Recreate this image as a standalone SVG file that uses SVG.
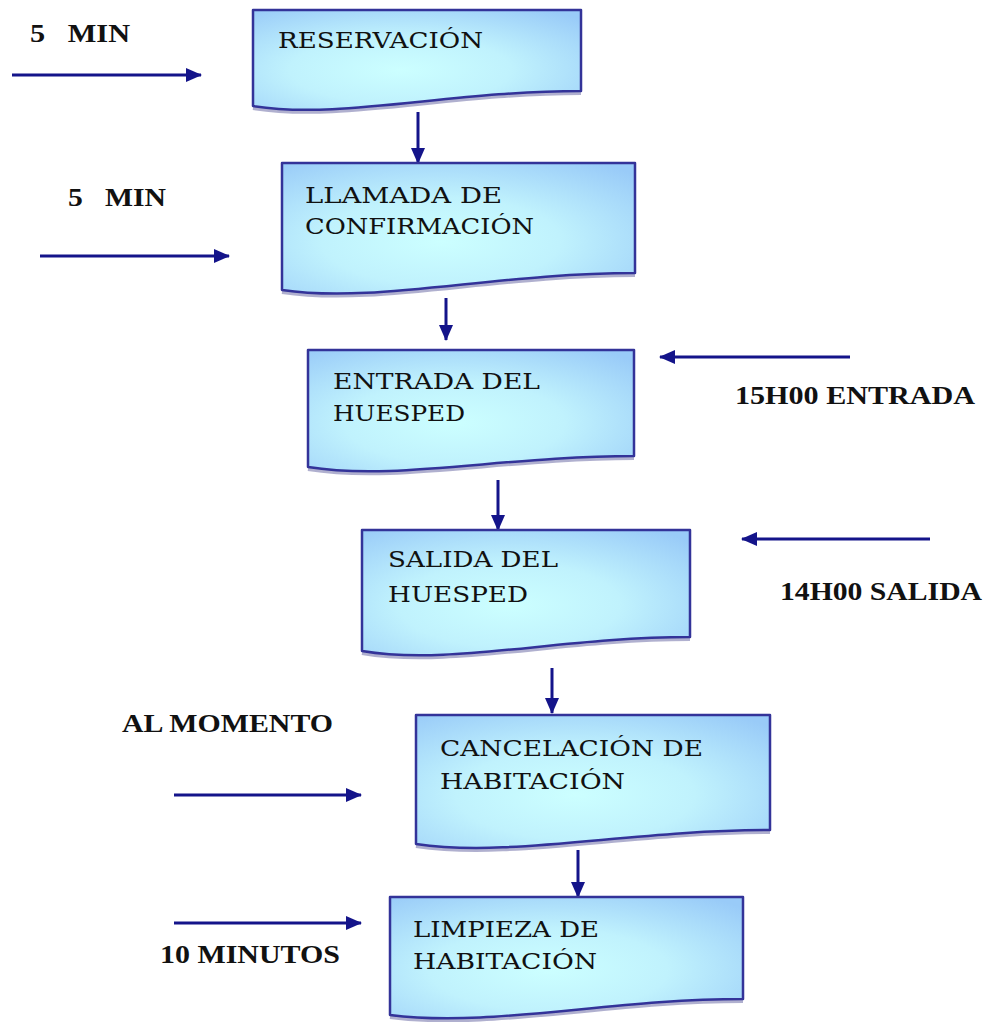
<svg xmlns="http://www.w3.org/2000/svg" width="990" height="1022" viewBox="0 0 990 1022">
<defs>
<radialGradient id="fill" cx="0.45" cy="0.6" r="0.75">
<stop offset="0" stop-color="#ccffff"/>
<stop offset="0.45" stop-color="#c0f2fd"/>
<stop offset="1" stop-color="#99cbf8"/>
</radialGradient>
<marker id="ah" markerUnits="userSpaceOnUse" markerWidth="16" markerHeight="14" refX="15" refY="7" orient="auto">
<path d="M0,0 L16,7 L0,14 Z" fill="#14148a"/>
</marker>
<style>
.box{fill:url(#fill);stroke:#333399;stroke-width:2.5;stroke-linejoin:round}
.shadow{fill:none;stroke:#7070a8;stroke-width:4;opacity:0.55}
.t{font-family:"DejaVu Serif","Liberation Serif",serif;font-size:23px;fill:#111}
.lbl{font-family:"Liberation Serif",serif;font-weight:bold;font-size:26px;fill:#111}
.ar{stroke:#14148a;stroke-width:3;fill:none;marker-end:url(#ah)}
</style>
</defs>
<g id="connectors">
<line class="ar" x1="418" y1="112" x2="418" y2="163"/>
<line class="ar" x1="446" y1="298" x2="446" y2="340"/>
<line class="ar" x1="498" y1="480" x2="498" y2="530"/>
<line class="ar" x1="552" y1="668" x2="552" y2="713"/>
<line class="ar" x1="578" y1="850" x2="578" y2="897"/>
<line class="ar" x1="12" y1="75" x2="201" y2="75"/>
<line class="ar" x1="40" y1="256" x2="229" y2="256"/>
<line class="ar" x1="850" y1="357" x2="660" y2="357"/>
<line class="ar" x1="930" y1="539" x2="742" y2="539"/>
<line class="ar" x1="174" y1="795" x2="361" y2="795"/>
<line class="ar" x1="174" y1="923" x2="361" y2="923"/>
</g>
<g id="labels">
<text class="lbl" x="30" y="42" xml:space="preserve" textLength="100" lengthAdjust="spacingAndGlyphs">5   MIN</text>
<text class="lbl" x="68" y="206" xml:space="preserve" textLength="98" lengthAdjust="spacingAndGlyphs">5   MIN</text>
<text class="lbl" x="735" y="404" textLength="240" lengthAdjust="spacingAndGlyphs">15H00 ENTRADA</text>
<text class="lbl" x="780" y="600" textLength="202" lengthAdjust="spacingAndGlyphs">14H00 SALIDA</text>
<text class="lbl" x="122" y="732" textLength="211" lengthAdjust="spacingAndGlyphs">AL MOMENTO</text>
<text class="lbl" x="160" y="963" textLength="180" lengthAdjust="spacingAndGlyphs">10 MINUTOS</text>
</g>
<g id="n1">
<path class="shadow" d="M581,93 C450,93 340,122 253,108"/>
<path class="box" d="M253,10 H581 V91 C450,91 340,120 253,106 Z"/>
<text class="t" x="278" y="48" textLength="205" lengthAdjust="spacingAndGlyphs">RESERVACIÓN</text>
</g>
<g id="n2">
<path class="shadow" d="M635,275 C495,275 375,306 282,292"/>
<path class="box" d="M282,163 H635 V273 C495,273 375,304 282,290 Z"/>
<text class="t" x="305" y="203" textLength="197" lengthAdjust="spacingAndGlyphs">LLAMADA DE</text>
<text class="t" x="305" y="234" textLength="229" lengthAdjust="spacingAndGlyphs">CONFIRMACIÓN</text>
</g>
<g id="n3">
<path class="shadow" d="M634,458 C505,458 395,483 308,469"/>
<path class="box" d="M308,350 H634 V456 C505,456 395,481 308,467 Z"/>
<text class="t" x="333" y="389" textLength="207" lengthAdjust="spacingAndGlyphs">ENTRADA DEL</text>
<text class="t" x="333" y="421" textLength="132" lengthAdjust="spacingAndGlyphs">HUESPED</text>
</g>
<g id="n4">
<path class="shadow" d="M690,639 C560,639 450,668 362,653"/>
<path class="box" d="M362,530 H690 V637 C560,637 450,666 362,651 Z"/>
<text class="t" x="388" y="567" textLength="170" lengthAdjust="spacingAndGlyphs">SALIDA DEL</text>
<text class="t" x="388" y="602" textLength="140" lengthAdjust="spacingAndGlyphs">HUESPED</text>
</g>
<g id="n5">
<path class="shadow" d="M770,832 C630,832 510,860 416,846"/>
<path class="box" d="M416,715 H770 V830 C630,830 510,858 416,844 Z"/>
<text class="t" x="440" y="756" textLength="263" lengthAdjust="spacingAndGlyphs">CANCELACIÓN DE</text>
<text class="t" x="440" y="789" textLength="185" lengthAdjust="spacingAndGlyphs">HABITACIÓN</text>
</g>
<g id="n6">
<path class="shadow" d="M743,1001 C610,1001 490,1030 390,1017"/>
<path class="box" d="M390,897 H743 V999 C610,999 490,1028 390,1015 Z"/>
<text class="t" x="413" y="937" textLength="186" lengthAdjust="spacingAndGlyphs">LIMPIEZA DE</text>
<text class="t" x="413" y="969" textLength="184" lengthAdjust="spacingAndGlyphs">HABITACIÓN</text>
</g>
</svg>
